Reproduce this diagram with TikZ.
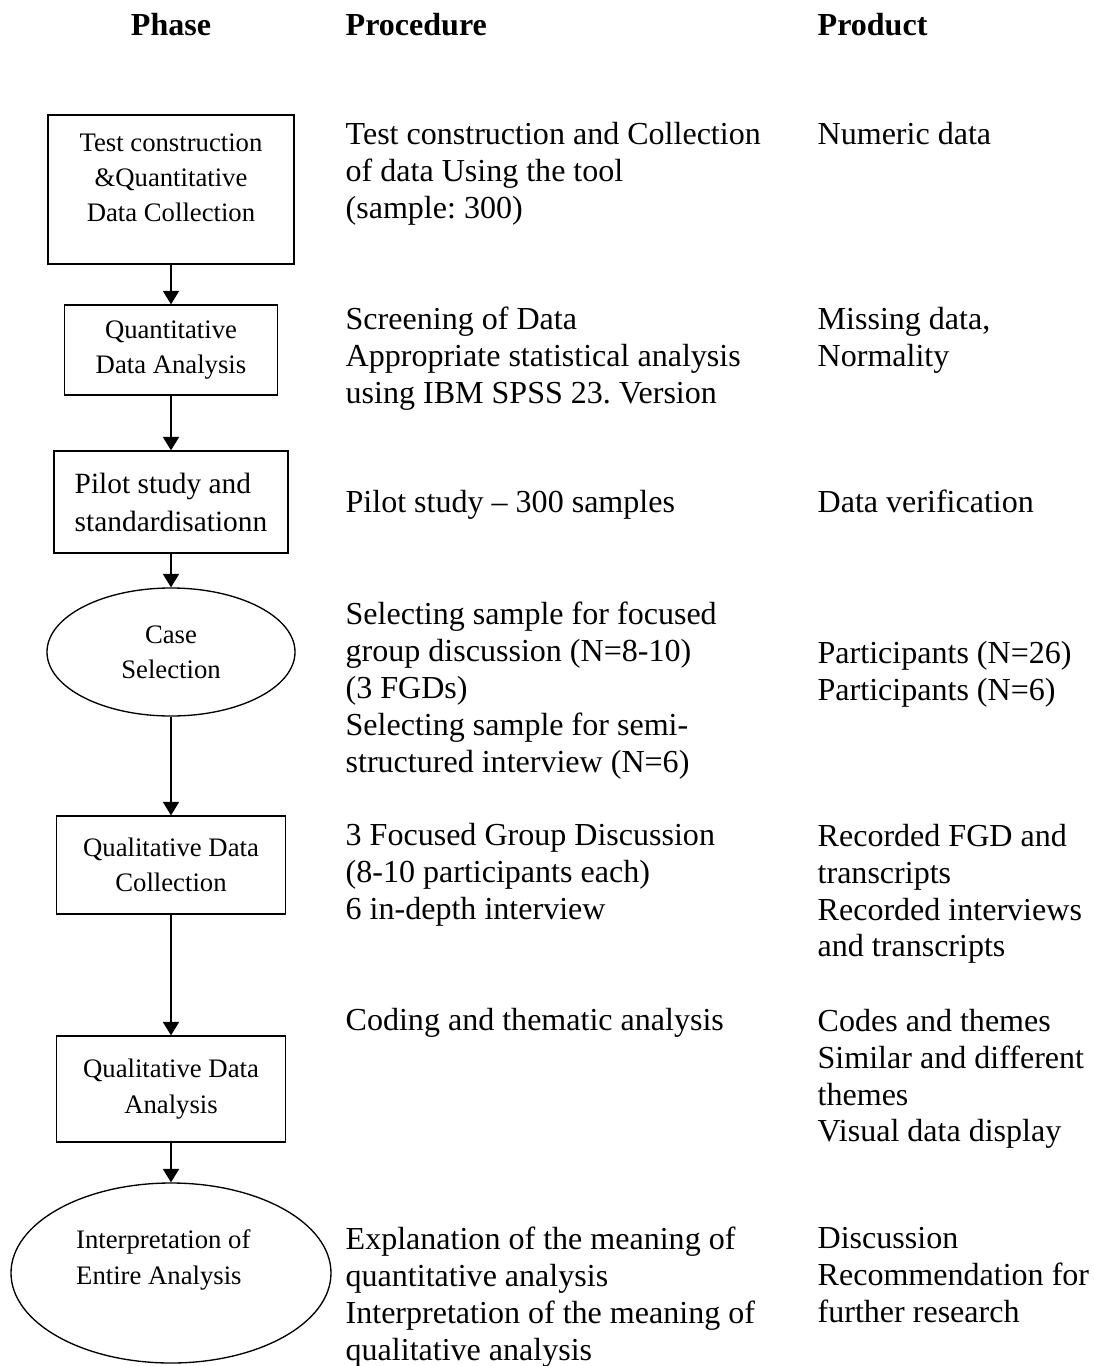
\documentclass[tikz,border=0pt]{standalone}
\usepackage{fontspec}
\setmainfont{Liberation Serif}
\usetikzlibrary{arrows.meta,shapes.geometric}
\newcommand{\pxu}{0.3745pt}
\frenchspacing

\begin{document}
\begin{tikzpicture}[x=\pxu, y=-\pxu, line width=0.5pt,
  font={\fontsize{12}{13.8}\selectfont},
  hd/.style={inner sep=0pt, font={\fontsize{12}{13.8}\selectfont\bfseries}},
  txt/.style={anchor=north west, inner sep=0pt, align=left},
  phbox/.style={draw, rectangle, inner sep=0pt, align=center, font={\fontsize{10}{13.2}\selectfont}},
  phoval/.style={draw, ellipse, inner sep=0pt, align=center, font={\fontsize{10}{13.2}\selectfont}},
  arr/.style={-{Triangle[length=5pt, width=6pt]}}]
  \useasboundingbox (0,0) rectangle (1093,1366);

  \node[hd] (hphase) at (171,25) {Phase};
  \node[hd, anchor=west] (hproc) at (345,25) {Procedure};
  \node[hd, anchor=west] (hprod) at (817,25) {Product};

  \node[phbox, minimum width=246*\pxu, minimum height=149*\pxu] (tcq) at (171,189.5)
    {Test construction\\\&Quantitative\\Data Collection\\[-4.2pt]\mbox{}};
  \node[phbox, minimum width=213*\pxu, minimum height=90*\pxu] (qnda) at (171,350)
    {Quantitative\\Data Analysis};
  \node[phbox, align=left, minimum width=234*\pxu, minimum height=102*\pxu,
    font={\fontsize{11}{14.2}\selectfont}] (pilot) at (171,502)
    {Pilot study and\\standardisationn};
  \node[phoval, minimum width=248*\pxu, minimum height=128*\pxu] (casesel) at (171,652)
    {Case\\Selection};
  \node[phbox, minimum width=229*\pxu, minimum height=98*\pxu] (qlcoll) at (171,865)
    {Qualitative Data\\Collection};
  \node[phbox, minimum width=229*\pxu, minimum height=106*\pxu] (qlan) at (171,1089)
    {Qualitative Data\\Analysis};
  \node[phoval, align=left, minimum width=320*\pxu, minimum height=180*\pxu] (interp) at (171,1273)
    {Interpretation of\\Entire Analysis\\[-1.2pt]\mbox{}\hspace*{71pt}};

  \foreach \a/\b in {tcq/qnda, qnda/pilot, pilot/casesel, casesel/qlcoll, qlcoll/qlan, qlan/interp}
    \draw[arr] (\a) -- (\b);

  \node[txt] (proc1) at (345,121.5) {Test construction and Collection\\of data Using the tool\\(sample: 300)};
  \node[txt] (proc2) at (345,306.5) {Screening of Data\\Appropriate statistical analysis\\using IBM SPSS 23. Version};
  \node[txt] (proc3) at (345,489.5) {Pilot study – 300 samples};
  \node[txt] (proc4) at (345,601.5) {Selecting sample for focused\\group discussion (N=8-10)\\(3 FGDs)\\Selecting sample for semi-\\structured interview (N=6)};
  \node[txt] (proc5) at (345,822.5) {3 Focused Group Discussion\\(8-10 participants each)\\6 in-depth interview};
  \node[txt] (proc6) at (345,1007.5) {Coding and thematic analysis};
  \node[txt] (proc7) at (345,1226.5) {Explanation of the meaning of\\quantitative analysis\\Interpretation of the meaning of\\qualitative analysis};

  \node[txt] (prod1) at (817,121.5) {Numeric data};
  \node[txt] (prod2) at (817,306.5) {Missing data,\\Normality};
  \node[txt] (prod3) at (817,489.5) {Data verification};
  \node[txt] (prod4) at (817,640.5) {Participants (N=26)\\Participants (N=6)};
  \node[txt] (prod5) at (817,823.5) {Recorded FGD and\\transcripts\\Recorded interviews\\and transcripts};
  \node[txt] (prod6) at (817,1008.5) {Codes and themes\\Similar and different\\themes\\Visual data display};
  \node[txt] (prod7) at (817,1226.5) {Discussion\\Recommendation for\\further research};
\end{tikzpicture}
\end{document}
